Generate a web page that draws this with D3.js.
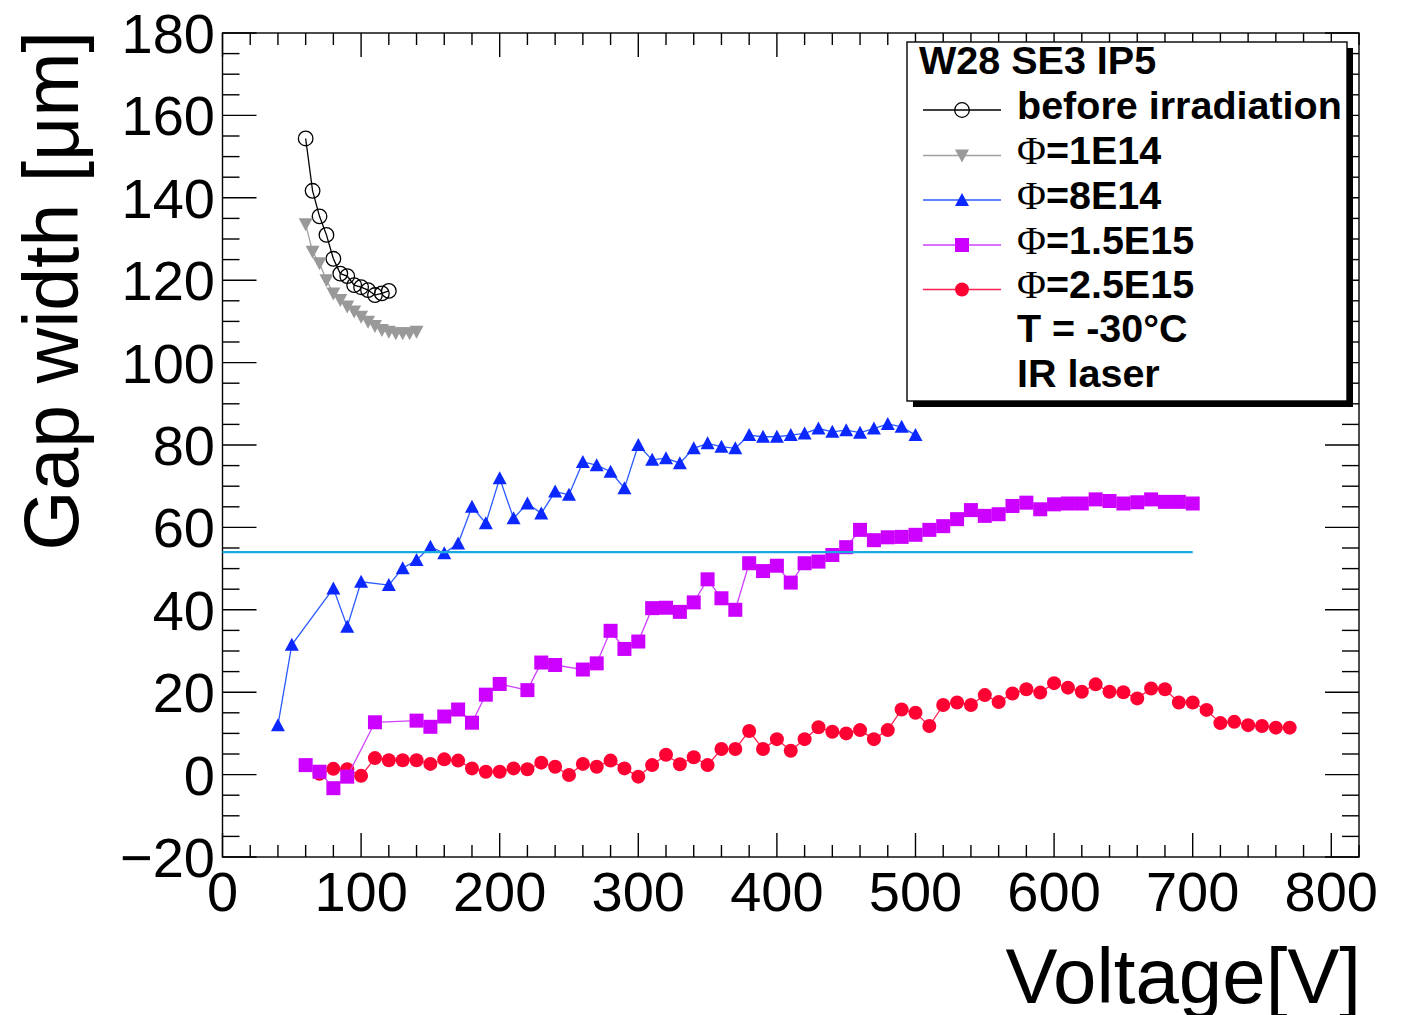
<!DOCTYPE html>
<html>
<head>
<meta charset="utf-8">
<script src="https://cdn.jsdelivr.net/npm/d3@7"></script>
<style>
  html, body { margin: 0; padding: 0; background: #fff; }
  svg { display: block; }
  text { font-family: "Liberation Sans", Arial, Helvetica, sans-serif; }
</style>
</head>
<body>
<svg id="chart" width="1401" height="1015"></svg>
<script>
// ---- data: gap width [um] vs bias voltage [V] ----
const beforeV   = [60, 65, 70, 75, 80, 85, 90, 95, 100, 105, 110, 115, 120];
const beforeGap = [154.4, 141.7, 135.5, 131.0, 125.2, 121.6, 121.0, 118.8, 118.3, 117.6, 116.4, 116.8, 117.4];

const f1e14V   = [60, 65, 70, 75, 80, 85, 90, 95, 100, 105, 110, 115, 120, 125, 130, 135, 140];
const f1e14Gap = [133.6, 126.9, 124.1, 120.0, 116.8, 115.2, 113.6, 112.4, 111.1, 109.9, 108.9, 107.9, 107.5, 107.1, 107.1, 107.1, 107.5];

const f8e14V   = [40, 50, 80, 90, 100, 120, 130, 140, 150, 160, 170, 180, 190, 200, 210, 220, 230, 240, 250,
                  260, 270, 280, 290, 300, 310, 320, 330, 340, 350, 360, 370, 380, 390, 400, 410, 420, 430,
                  440, 450, 460, 470, 480, 490, 500];
const f8e14Gap = [12.0, 31.5, 45.2, 35.9, 46.8, 46.0, 50.1, 52.1, 55.3, 53.7, 56.1, 65.0, 61.0, 71.9, 62.2, 65.8, 63.4, 68.7, 67.9,
                  75.9, 75.1, 73.5, 69.5, 80.0, 76.4, 76.8, 75.6, 79.2, 80.4, 79.6, 79.2, 82.4, 82.0, 82.0, 82.4, 82.8, 84.0,
                  83.2, 83.6, 83.0, 84.0, 85.1, 84.4, 82.4];

const f15e15V   = [60, 70, 80, 90, 110, 140, 150, 160, 170, 180, 190, 200, 220, 230, 240, 260, 270, 280, 290, 300,
                   310, 320, 330, 340, 350, 360, 370, 380, 390, 400, 410, 420, 430, 440, 450, 460, 470, 480, 490, 500,
                   510, 520, 530, 540, 550, 560, 570, 580, 590, 600, 610, 620, 630, 640, 650, 660, 670, 680, 690, 700];
const f15e15Gap = [2.3, 0.7, -3.3, -0.5, 12.7, 13.1, 11.6, 14.1, 15.8, 12.6, 19.4, 22.0, 20.5, 27.2, 26.6, 25.5, 27.0, 34.9, 30.5, 32.3,
                   40.4, 40.5, 39.5, 41.8, 47.4, 42.8, 40.0, 51.3, 49.4, 50.7, 46.6, 51.3, 51.7, 53.3, 55.2, 59.4, 56.9, 57.6, 57.7, 58.2,
                   59.4, 60.3, 62.0, 64.2, 62.8, 63.2, 65.2, 66.0, 64.4, 65.6, 65.8, 65.8, 66.8, 66.4, 65.8, 66.1, 66.8, 66.2, 66.2, 65.8];

const f25e15V   = [70, 80, 90, 100, 110, 120, 130, 140, 150, 160, 170, 180, 190, 200, 210, 220, 230, 240, 250, 260,
                   270, 280, 290, 300, 310, 320, 330, 340, 350, 360, 370, 380, 390, 400, 410, 420, 430, 440, 450, 460,
                   470, 480, 490, 500, 510, 520, 530, 540, 550, 560, 570, 580, 590, 600, 610, 620, 630, 640, 650, 660,
                   670, 680, 690, 700, 710, 720, 730, 740, 750, 760, 770];
const f25e15Gap = [0.2, 1.4, 1.3, -0.3, 4.0, 3.5, 3.5, 3.5, 2.6, 3.7, 3.4, 1.5, 0.7, 0.7, 1.5, 1.3, 2.9, 1.9, -0.1, 2.6,
                   1.9, 3.4, 1.5, -0.5, 2.3, 4.8, 2.5, 4.2, 2.3, 6.2, 6.2, 10.6, 6.2, 8.6, 5.8, 8.6, 11.5, 10.4, 10.0, 10.8,
                   8.6, 10.8, 15.8, 15.0, 11.8, 16.9, 17.5, 16.9, 19.3, 17.6, 19.7, 20.7, 19.9, 22.2, 21.1, 20.1, 21.9, 20.1, 20.0, 18.5,
                   20.9, 20.7, 17.5, 17.5, 15.7, 12.5, 12.8, 12.0, 11.8, 11.4, 11.4];

// reference level
const refV   = [0, 700];
const refGap = [54.0, 54.0];

const xTicks = [0, 100, 200, 300, 400, 500, 600, 700, 800];
const yTicks = [-20, 0, 20, 40, 60, 80, 100, 120, 140, 160, 180];

const legendTitle = "W28 SE3 IP5";
const legendLabels = ["before irradiation", "=1E14", "=8E14", "=1.5E15", "=2.5E15"];
const legendNotes = ["T = -30\u00B0C", "IR laser"];

// ---- layout ----
const svg = d3.select("#chart");
const L = 222.5, R = 1359, T = 33, B = 857;
const x = d3.scaleLinear().domain([0, 820]).range([L, R]);
const y = d3.scaleLinear().domain([-20, 180]).range([B, T]);

const series = [
  { v: beforeV, g: beforeGap, line: "#000000", fill: "none", stroke: "#000000", shape: "openCircle" },
  { v: f1e14V, g: f1e14Gap, line: "#a0a0a0", fill: "#999999", stroke: "#999999", shape: "triDown" },
  { v: f8e14V, g: f8e14Gap, line: "#2a5cff", fill: "#0a28ff", stroke: "#0a28ff", shape: "triUp" },
  { v: f25e15V, g: f25e15Gap, line: "#ff2050", fill: "#ff0033", stroke: "#ff0033", shape: "circle" },
  { v: f15e15V, g: f15e15Gap, line: "#d040ff", fill: "#cc00ff", stroke: "#cc00ff", shape: "square" }
];
const legendOrder = [0, 1, 2, 4, 3];

function marker(sel, shape, cx, cy, fill, stroke) {
  if (shape === "openCircle") {
    sel.append("circle").attr("cx", cx).attr("cy", cy).attr("r", 7.3)
      .attr("fill", "none").attr("stroke", stroke).attr("stroke-width", 1.3);
  } else if (shape === "circle") {
    sel.append("circle").attr("cx", cx).attr("cy", cy).attr("r", 7)
      .attr("fill", fill);
  } else if (shape === "square") {
    sel.append("rect").attr("x", cx - 7).attr("y", cy - 7).attr("width", 14).attr("height", 14)
      .attr("fill", fill);
  } else if (shape === "triUp") {
    sel.append("path").attr("d", `M${cx},${cy - 7}L${cx + 7},${cy + 6}L${cx - 7},${cy + 6}Z`).attr("fill", fill);
  } else if (shape === "triDown") {
    sel.append("path").attr("d", `M${cx},${cy + 7}L${cx + 7},${cy - 6}L${cx - 7},${cy - 6}Z`).attr("fill", fill);
  }
}

// ---- frame & axes ----
const axes = svg.append("g").attr("stroke", "#000").attr("stroke-width", 1.4);
axes.append("rect").attr("x", L).attr("y", T).attr("width", R - L).attr("height", B - T).attr("fill", "none");

const xMinor = d3.range(0, 821, 20);
const yMinor = d3.range(-20, 181, 5);
xMinor.forEach(v => {
  const major = v % 100 === 0;
  const len = major ? 24 : 12;
  axes.append("line").attr("x1", x(v)).attr("x2", x(v)).attr("y1", B).attr("y2", B - len);
  axes.append("line").attr("x1", x(v)).attr("x2", x(v)).attr("y1", T).attr("y2", T + len);
});
yMinor.forEach(v => {
  const major = v % 20 === 0;
  const len = major ? 34 : 17;
  axes.append("line").attr("x1", L).attr("x2", L + len).attr("y1", y(v)).attr("y2", y(v));
  axes.append("line").attr("x1", R).attr("x2", R - len).attr("y1", y(v)).attr("y2", y(v));
});

svg.append("g").selectAll("text").data(xTicks).join("text")
  .attr("x", d => x(d)).attr("y", 911)
  .attr("text-anchor", "middle").attr("font-size", 56)
  .text(d => d);
svg.append("g").selectAll("text").data(yTicks).join("text")
  .attr("x", 215).attr("y", d => y(d) + 20)
  .attr("text-anchor", "end").attr("font-size", 56)
  .text(d => d < 0 ? "\u2212" + Math.abs(d) : d);

svg.append("text").attr("x", 1361).attr("y", 1003).attr("text-anchor", "end")
  .attr("font-size", 78).text("Voltage[V]");
svg.append("text").attr("transform", "translate(78,31) rotate(-90)").attr("text-anchor", "end")
  .attr("font-size", 77).text("Gap width [\u03BCm]");

// ---- series ----
const plot = svg.append("g");
series.forEach(s => {
  const pts = s.v.map((v, i) => [x(v), y(s.g[i])]);
  plot.append("path").attr("d", d3.line()(pts)).attr("fill", "none")
    .attr("stroke", s.line).attr("stroke-width", 1.3);
  const mg = plot.append("g");
  pts.forEach(p => marker(mg, s.shape, p[0], p[1], s.fill, s.stroke));
});
plot.append("path").attr("d", d3.line()(refV.map((v, i) => [x(v), y(refGap[i])])))
  .attr("fill", "none").attr("stroke", "#1aa8e0").attr("stroke-width", 2.2);

// ---- legend ----
const lg = svg.append("g");
const bx = 907, by = 42, bw = 440, bh = 359;
lg.append("rect").attr("x", bx + 6).attr("y", by + 6).attr("width", bw).attr("height", bh).attr("fill", "#000");
lg.append("rect").attr("x", bx).attr("y", by).attr("width", bw).attr("height", bh)
  .attr("fill", "#fff").attr("stroke", "#000").attr("stroke-width", 1.4);

const fs = 39.5;
lg.append("text").attr("x", 919).attr("y", 74).attr("font-size", fs).attr("font-weight", "bold").text(legendTitle);
const rowY = [110, 155.5, 200, 245, 289.5];
legendOrder.forEach((si, k) => {
  const s = series[si];
  const ly = rowY[k];
  lg.append("line").attr("x1", 923).attr("x2", 1001).attr("y1", ly).attr("y2", ly)
    .attr("stroke", s.line).attr("stroke-width", 1.3);
  marker(lg, s.shape, 962, ly, s.fill, s.stroke);
  const t = lg.append("text").attr("x", 1017).attr("y", ly + 8.5).attr("font-size", fs).attr("font-weight", "bold");
  if (k === 0) {
    t.text(legendLabels[0]);
  } else {
    t.append("tspan").attr("font-family", "'Liberation Serif', 'DejaVu Serif', serif").attr("font-weight", "normal").text("\u03A6");
    t.append("tspan").text(legendLabels[k]);
  }
});
legendNotes.forEach((n, k) => {
  lg.append("text").attr("x", 1017).attr("y", 342 + k * 44.5).attr("font-size", fs).attr("font-weight", "bold").text(n);
});
</script>
</body>
</html>
